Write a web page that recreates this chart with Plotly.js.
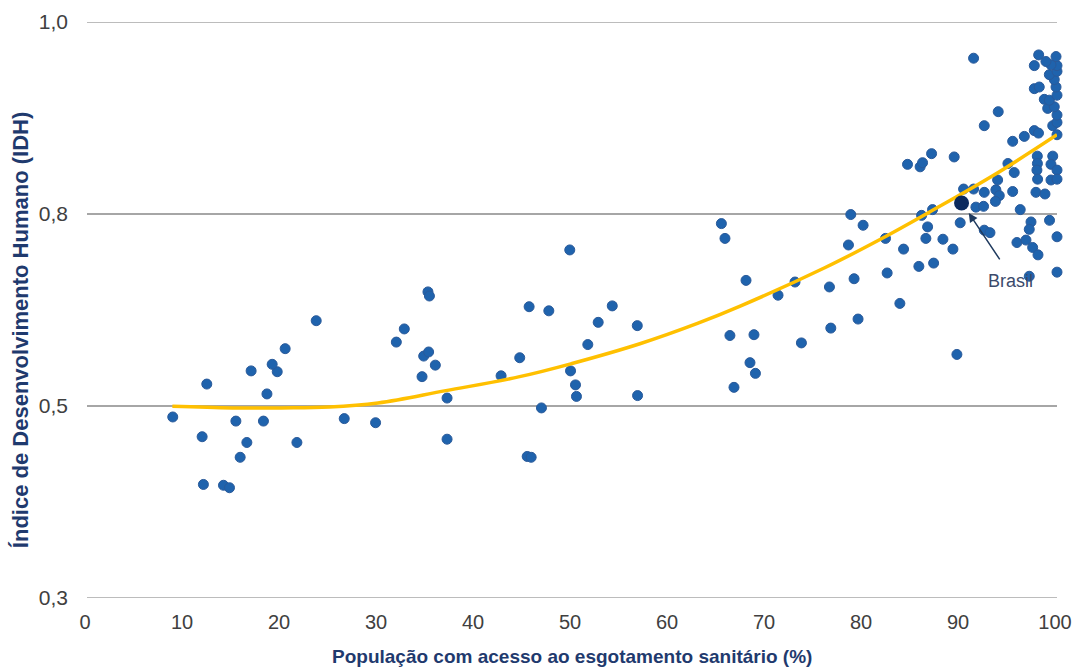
<!DOCTYPE html>
<html>
<head>
<meta charset="utf-8">
<script src="https://cdn.plot.ly/plotly-3.0.1.min.js"></script>
<style>
html,body{margin:0;padding:0;background:#fff;}
#chart{width:1073px;height:668px;}
</style>
</head>
<body>
<div id="chart"></div>
<script>
// Countries: access to sewage (%) vs HDI
const countryX = [
 8.84,12.35,11.87,15.35,18.19,18.55,16.48,15.79,12.00,14.07,14.69,21.64,26.52,29.75,16.92,19.61,19.09,20.43,23.63,
 31.89,32.71,35.15,35.30,34.71,35.22,35.91,34.54,37.12,37.12,42.69,44.61,45.58,47.61,46.85,45.38,45.79,49.77,49.85,
 50.36,50.46,51.63,52.70,54.15,56.73,56.76,
 65.40,65.77,67.94,71.24,72.99,66.28,68.76,68.35,68.91,66.70,73.65,76.68,76.54,79.08,79.49,78.74,80.01,78.50,82.32,
 82.49,83.80,84.18,85.76,87.28,86.04,86.66,87.17,86.48,88.24,89.27,90.02,89.68,
 90.37,91.40,92.50,93.70,94.05,93.65,95.43,91.64,92.43,96.21,97.83,98.76,92.50,93.09,97.32,97.14,95.87,96.80,97.49,
 98.04,97.14,99.23,100,100,94.94,95.59,93.88,97.97,97.98,97.93,98.00,99.56,99.38,100,99.38,100,
 95.43,96.63,97.66,98.09,100,99.56,100,100,99.04,99.72,98.69,99.21,100,97.66,98.17,99.90,99.72,99.21,100,100,
 99.38,98.86,97.66,98.11,99.90,91.40,93.94,92.50,87.07,89.40,84.59,85.89,86.14
];
const countryY = [
 0.520,0.560,0.496,0.515,0.515,0.548,0.489,0.471,0.438,0.437,0.434,0.489,0.518,0.513,0.576,0.575,0.584,0.603,0.637,
 0.611,0.627,0.672,0.667,0.594,0.599,0.583,0.569,0.543,0.493,0.570,0.592,0.654,0.649,0.531,0.472,0.471,0.723,0.576,
 0.559,0.545,0.608,0.635,0.655,0.631,0.546,
 0.755,0.737,0.686,0.668,0.684,0.619,0.620,0.586,0.573,0.556,0.610,0.628,0.678,0.688,0.639,0.766,0.753,0.729,0.737,
 0.695,0.658,0.724,0.703,0.707,0.765,0.751,0.772,0.737,0.736,0.724,0.756,0.596,
 0.797,0.797,0.793,0.796,0.789,0.782,0.794,0.775,0.776,0.772,0.793,0.791,0.747,0.744,0.757,0.748,0.732,0.735,0.726,
 0.717,0.691,0.759,0.739,0.696,0.828,0.817,0.808,0.837,0.828,0.820,0.809,0.837,0.827,0.820,0.808,0.809,
 0.855,0.861,0.868,0.865,0.863,0.874,0.878,0.887,0.895,0.897,0.906,0.905,0.911,0.919,0.921,0.921,0.930,0.936,0.940,0.947,
 0.948,0.952,0.947,0.960,0.958,0.956,0.891,0.874,0.840,0.836,0.827,0.824,0.829
];
const brasilX = [90.16];
const brasilY = [0.780];
// Trend line
const trendX = [8.8,15,20,25,30,37,44.6,50,57,63,67.4,76,81.8,87,93.5,100];
const trendY = [0.533,0.531,0.531,0.532,0.537,0.552,0.569,0.585,0.609,0.634,0.655,0.701,0.736,0.770,0.814,0.863];

const xTicks = [0,10,20,30,40,50,60,70,80,90,100];
const yTickVals = [0.3,0.5333,0.7667,1.0];
const yTickText = ['0,3','0,5','0,8','1,0'];

const FONT = '"Liberation Sans", Arial, sans-serif';
const NAVY = '#1f3a6e';
const GRID = '#a6a6a6';

const traces = [
 {x: countryX, y: countryY, type:'scatter', mode:'markers', cliponaxis:false,
  marker:{size:10, color:'#1f63ad', line:{width:1, color:'#2a5a9a'}}, hoverinfo:'x+y'},
 {x: trendX, y: trendY, type:'scatter', mode:'lines', cliponaxis:false,
  line:{color:'#ffc000', width:3.5, shape:'spline', smoothing:1.1}},
 {x: brasilX, y: brasilY, type:'scatter', mode:'markers', cliponaxis:false,
  marker:{size:15, color:'#0c2a5e'}}
];

const edgeLines = [yTickVals[0], yTickVals[yTickVals.length-1]].map(v => ({
  type:'line', xref:'paper', yref:'y', x0:0, x1:1, y0:v, y1:v, layer:'below',
  line:{color:GRID, width:1.5}
}));

const layout = {
 width:1073, height:668,
 margin:{l:87, r:16, t:22, b:70},
 paper_bgcolor:'#fff', plot_bgcolor:'#fff',
 showlegend:false,
 font:{family:FONT, color:'#404040', size:21},
 xaxis:{range:[0,100], tickvals:xTicks, showgrid:false, zeroline:false, showline:false,
   ticks:'', ticklabelstandoff:10, ticklabeloverflow:'allow', ticklabelshift:-2,
   tickfont:{family:FONT, size:20, color:'#404040'}},
 yaxis:{range:[0.3,1.0], tickvals:yTickVals, ticktext:yTickText, showgrid:true,
   gridcolor:GRID, gridwidth:1.5, zeroline:false, showline:false, ticks:'',
   ticklabelstandoff:18, ticklabeloverflow:'allow',
   tickfont:{family:FONT, size:21, color:'#404040'}},
 shapes: edgeLines,
 annotations:[
  {xref:'paper', yref:'paper', x:0.5, y:-0.1024, xanchor:'center', yanchor:'middle',
   text:'<b>População com acesso ao esgotamento sanitário (%)</b>', showarrow:false,
   font:{family:FONT, size:19, color:NAVY}},
  {xref:'paper', yref:'paper', x:-0.0691, y:0.465, xanchor:'center', yanchor:'middle',
   textangle:-90, text:'<b>Índice de Desenvolvimento Humano (IDH)</b>', showarrow:false,
   font:{family:FONT, size:22, color:NAVY}},
  {x:90.9, y:0.768, xref:'x', yref:'y', text:'', showarrow:true, arrowhead:2, arrowsize:1.2,
   arrowwidth:1.5, arrowcolor:'#1f3a5e', ax:32, ay:48},
  {x:95.25, y:0.685, xref:'x', yref:'y', text:'Brasil', showarrow:false,
   font:{family:FONT, size:18, color:'#3b4a6b'}}
 ]
};

Plotly.newPlot('chart', traces, layout, {displayModeBar:false, staticPlot:true});
</script>
</body>
</html>
